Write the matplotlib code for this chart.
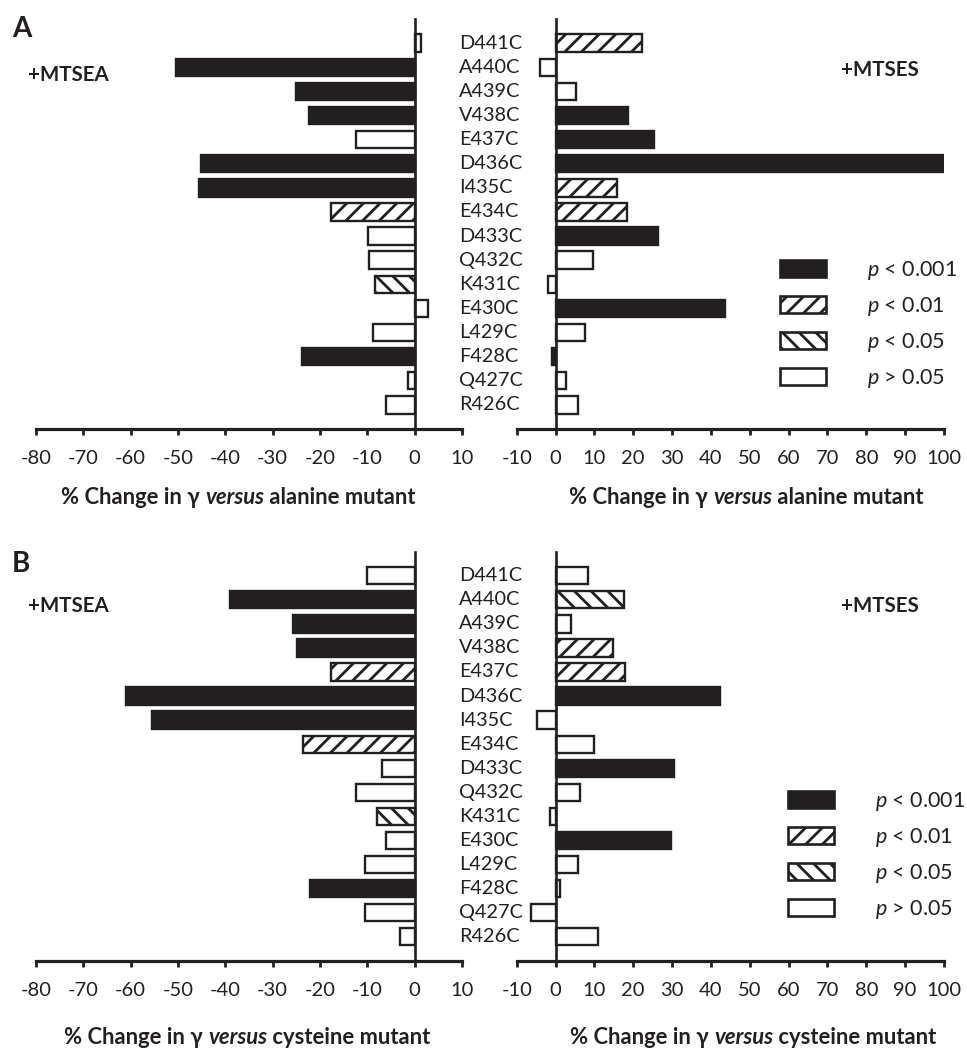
import matplotlib
matplotlib.use("Agg")
import matplotlib.pyplot as plt
import matplotlib.transforms as mtransforms
from matplotlib.patches import Patch

# fonts
plt.rcParams['font.family'] = ['Lato', 'DejaVu Sans']
plt.rcParams['mathtext.fontset'] = 'custom'
plt.rcParams['mathtext.rm'] = 'Lato'
plt.rcParams['mathtext.it'] = 'Lato:italic'
plt.rcParams['mathtext.bf'] = 'Lato:bold'
plt.rcParams['hatch.linewidth'] = 2.0
plt.rcParams['axes.unicode_minus'] = False

# data (bottom to top)
mutants = ['R426C', 'Q427C', 'F428C', 'L429C', 'E430C', 'K431C', 'Q432C', 'D433C',
           'E434C', 'I435C', 'D436C', 'E437C', 'V438C', 'A439C', 'A440C', 'D441C']

# significance codes: 3 = p<0.001, 2 = p<0.01, 1 = p<0.05, 0 = p>0.05
a_mtsea = [-6.0, -1.4, -23.9, -8.8, 2.8, -8.4, -9.6, -9.8,
           -17.6, -45.6, -45.1, -12.5, -22.4, -25.1, -50.4, 1.3]
a_mtsea_sig = [0, 0, 3, 0, 0, 1, 0, 0, 2, 3, 3, 0, 3, 3, 3, 0]
a_mtses = [5.7, 2.8, -0.8, 7.6, 43.7, -2.0, 9.7, 26.3,
           18.4, 15.7, 100.0, 25.3, 18.7, 5.2, -4.1, 22.3]
a_mtses_sig = [0, 0, 3, 0, 3, 0, 0, 3, 2, 2, 3, 3, 3, 0, 0, 2]

b_mtsea = [-3.0, -10.4, -22.2, -10.4, -6.0, -8.0, -12.5, -6.8,
           -23.5, -55.4, -60.9, -17.6, -24.8, -25.8, -39.1, -10.0]
b_mtsea_sig = [0, 0, 3, 0, 0, 1, 0, 0, 2, 3, 3, 2, 3, 3, 3, 0]
b_mtses = [11.0, -6.2, 1.1, 5.7, 29.6, -1.5, 6.2, 30.5,
           9.9, -4.9, 42.4, 17.9, 14.9, 3.9, 17.7, 8.4]
b_mtses_sig = [0, 0, 0, 0, 3, 0, 0, 3, 0, 0, 3, 2, 2, 0, 1, 0]

sig_labels = ['$p$ < 0.001', '$p$ < 0.01', '$p$ < 0.05', '$p$ > 0.05']

dark = '#231f20'
fill = {3: dark, 2: 'white', 1: 'white', 0: 'white'}
hatch = {3: None, 2: '//', 1: '\\\\', 0: None}

fig = plt.figure(figsize=(9.67, 10.5), dpi=100)
W, H = 967.0, 1050.0


def make_axes(x0, x1, ytop, ybot, xlim, xticks):
    ax = fig.add_axes([x0 / W, 1 - ybot / H, (x1 - x0) / W, (ybot - ytop) / H])
    ax.set_xlim(*xlim)
    ax.set_ylim(-1.0, 16.0)
    ax.spines['top'].set_visible(False)
    ax.spines['right'].set_visible(False)
    ax.spines['left'].set_position(('data', 0))
    ax.spines['left'].set_linewidth(1.9)
    ax.spines['bottom'].set_linewidth(2.3)
    for s in ['left', 'bottom']:
        ax.spines[s].set_color(dark)
    ax.set_yticks([])
    ax.set_xticks(xticks)
    ax.tick_params(axis='x', direction='out', length=4, width=2, color=dark,
                   labelsize=14.5, pad=11, labelcolor=dark)
    ax.patch.set_alpha(0)
    return ax


def draw_bars(ax, vals, sig):
    ypos = list(range(len(mutants)))
    for y, v, s in zip(ypos, vals, sig):
        ax.barh(y, v, height=0.72, color=fill[s], edgecolor=dark,
                linewidth=1.7, hatch=hatch[s], zorder=1)


def add_legend(ax, x, y):
    handles = [Patch(facecolor=fill[s], edgecolor=dark, hatch=hatch[s], linewidth=1.9)
               for s in [3, 2, 1, 0]]
    ax.legend(handles, sig_labels, loc='upper left', bbox_to_anchor=(x / W, 1 - y / H),
              bbox_transform=fig.transFigure, frameon=False, fontsize=15.5,
              handlelength=2.14, handleheight=0.88, handletextpad=1.89,
              labelspacing=0.6, borderpad=0, borderaxespad=0, labelcolor=dark)


def add_xlabel(x, y, last):
    t1 = fig.text(x / W, 1 - y / H, '% Change in γ ', fontsize=15.8, fontweight='bold',
                  ha='left', va='center', color=dark)
    t2 = fig.text(0, 0, 'versus', fontsize=15.8, fontweight='bold', fontstyle='italic',
                  ha='left', va='center', color=dark)
    t3 = fig.text(0, 0, ' ' + last, fontsize=15.8, fontweight='bold',
                  ha='left', va='center', color=dark)
    fig.canvas.draw()
    r = fig.canvas.get_renderer()
    bb1 = t1.get_window_extent(r)
    t2.set_position((bb1.x1 / fig.bbox.width, 1 - y / H))
    bb2 = t2.get_window_extent(r)
    t3.set_position((bb2.x1 / fig.bbox.width, 1 - y / H))


left_ticks = list(range(-80, 11, 10))
right_ticks = list(range(-10, 101, 10))

panels = [
    # ytop, ybot, mtsea, mtsea_sig, mtses, mtses_sig, letter, letter y,
    # +MTSEA y, +MTSES y, xlabel y, xlabel word, legend x, legend y, xlabel x
    (19, 429, a_mtsea, a_mtsea_sig, a_mtses, a_mtses_sig, 'A', 29, 75, 70, 498,
     'alanine mutant', 780, 259, (61, 569)),
    (551.7, 960.7, b_mtsea, b_mtsea_sig, b_mtses, b_mtses_sig, 'B', 564, 606, 606, 1038,
     'cysteine mutant', 788, 790, (64, 570)),
]

for (ytop, ybot, ea, ea_sig, es, es_sig, letter, ly, mtsea_y, mtses_y,
     xl_y, xl_word, leg_x, leg_y, xl_x) in panels:
    axl = make_axes(36, 462, ytop, ybot, (-80, 10), left_ticks)
    axr = make_axes(516.7, 944, ytop, ybot, (-10, 100), right_ticks)
    draw_bars(axl, ea, ea_sig)
    draw_bars(axr, es, es_sig)

    trans = mtransforms.blended_transform_factory(fig.transFigure, axr.transData)
    for i, m in enumerate(mutants):
        axr.text(459 / W, i, m, transform=trans, ha='left', va='center',
                 fontsize=14.3, color=dark, clip_on=False)

    fig.text(12 / W, 1 - ly / H, letter, fontsize=20, fontweight='bold',
             ha='left', va='center', color=dark)
    fig.text(28 / W, 1 - mtsea_y / H, '+MTSEA', fontsize=14.8, fontweight='bold',
             ha='left', va='center', color=dark)
    fig.text(841 / W, 1 - mtses_y / H, '+MTSES', fontsize=14.8, fontweight='bold',
             ha='left', va='center', color=dark)

    add_legend(axr, leg_x, leg_y)
    add_xlabel(xl_x[0], xl_y, xl_word)
    add_xlabel(xl_x[1], xl_y, xl_word)

fig.savefig('out.png', dpi=100)
